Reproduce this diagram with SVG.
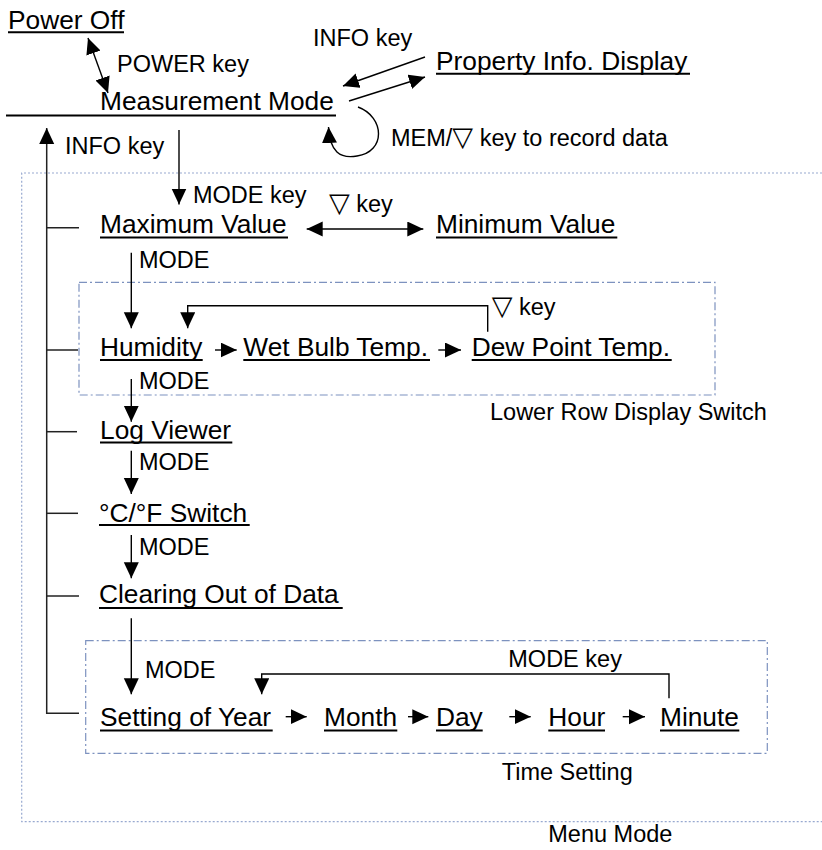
<svg xmlns="http://www.w3.org/2000/svg" width="822" height="850" viewBox="0 0 822 850">
<style>
.n{font-family:"Liberation Sans",Arial,"DejaVu Sans",sans-serif;font-size:26.3px;fill:#000}
.l{font-family:"Liberation Sans",Arial,"DejaVu Sans",sans-serif;font-size:23.5px;fill:#000}
.tri{font-family:"DejaVu Sans",sans-serif;font-size:27px}
.u{stroke:#000;stroke-width:2;fill:none}
.c{stroke:#000;stroke-width:1.4;fill:none}
.t{stroke:#222;stroke-width:1.5;fill:none}
.a{marker-end:url(#ah)}
.b{marker-start:url(#ahs);marker-end:url(#ah)}
.outer{fill:none;stroke:#98a9d0;stroke-width:1.2;stroke-dasharray:2 2}
.inner{fill:none;stroke:#7d92bf;stroke-width:1.2;stroke-dasharray:8 3 2 3}
</style>
<defs>
<marker id="ah" markerUnits="userSpaceOnUse" markerWidth="17" markerHeight="17" refX="16" refY="7.5" orient="auto">
<path d="M0,0 L16,7.5 L0,15 z" fill="#000"/>
</marker>
<marker id="ahs" markerUnits="userSpaceOnUse" markerWidth="17" markerHeight="17" refX="16" refY="7.5" orient="auto-start-reverse">
<path d="M0,0 L16,7.5 L0,15 z" fill="#000"/>
</marker>
</defs>

<g id="frames">
<path class="outer" d="M830,173 H21.7 V821.7 H830"/>
<rect id="lower-row-box" class="inner" x="79" y="282.3" width="636" height="112.7"/>
<rect id="time-box" class="inner" x="85.7" y="640.7" width="681.6" height="112.6"/>
</g>

<g id="connectors">
<line class="c b" x1="88" y1="38" x2="108" y2="93"/>
<line class="c a" x1="425" y1="57" x2="343" y2="86"/>
<line class="c a" x1="349" y1="101" x2="425" y2="77"/>
<path class="c a" d="M358,107 C385,117 386,152 357,156 C340,159 330,152 328.5,127"/>
<path class="t a" d="M79,713.3 H46.7 V128"/>
<line class="t" x1="46.7" y1="227.7" x2="79" y2="227.7"/>
<line class="t" x1="46.7" y1="350" x2="78" y2="350"/>
<line class="t" x1="46.7" y1="431.7" x2="77" y2="431.7"/>
<line class="t" x1="46.7" y1="513.3" x2="78" y2="513.3"/>
<line class="t" x1="46.7" y1="596" x2="79" y2="596"/>
<line class="c a" x1="179" y1="130" x2="179" y2="204.5"/>
<line class="c b" x1="306.7" y1="229" x2="423.3" y2="229"/>
<line class="c a" x1="131.3" y1="252.7" x2="131.3" y2="328.3"/>
<path class="c a" d="M487.7,331.7 V305.7 H187.7 V328.3"/>
<line class="c a" x1="215" y1="350" x2="236.7" y2="350"/>
<line class="c a" x1="438.3" y1="350" x2="461" y2="350"/>
<line class="c a" x1="131.3" y1="379" x2="131.3" y2="421.7"/>
<line class="c a" x1="131.3" y1="450.7" x2="131.3" y2="494"/>
<line class="c a" x1="131.3" y1="535" x2="131.3" y2="578.3"/>
<line class="c a" x1="131.3" y1="618.3" x2="131.3" y2="694.3"/>
<path class="c a" d="M669,698.3 V674 H261.7 V694.3"/>
<line class="c a" x1="285.7" y1="716.7" x2="306.7" y2="716.7"/>
<line class="c a" x1="408" y1="716.7" x2="428.3" y2="716.7"/>
<line class="c a" x1="509.3" y1="716.7" x2="530.7" y2="716.7"/>
<line class="c a" x1="622.7" y1="716.7" x2="645" y2="716.7"/>
</g>

<g id="labels">
<text class="l" x="117" y="72">POWER key</text>
<text class="l" x="313" y="46">INFO key</text>
<text class="l" x="391" y="146">MEM/<tspan class="tri">▽</tspan> key to record data</text>
<text class="l" x="65" y="154">INFO key</text>
<text class="l" x="193" y="202.7">MODE key</text>
<text class="l" x="329" y="211.7"><tspan class="tri">▽</tspan> key</text>
<text class="l" x="139" y="268.3">MODE</text>
<text class="l" x="491.7" y="315"><tspan class="tri">▽</tspan> key</text>
<text class="l" x="139" y="389.3">MODE</text>
<text class="l" x="490" y="420">Lower Row Display Switch</text>
<text class="l" x="139" y="470">MODE</text>
<text class="l" x="139" y="555">MODE</text>
<text class="l" x="145" y="677.7">MODE</text>
<text class="l" x="508.3" y="666.7">MODE key</text>
<text class="l" x="501.7" y="780">Time Setting</text>
<text class="l" x="548.3" y="841.7">Menu Mode</text>
</g>

<g id="power-off"><text class="n" x="8" y="29.3">Power Off</text><line class="u" x1="8" y1="32.3" x2="124" y2="32.3"/></g>
<g id="measurement-mode"><text class="n" x="100" y="110">Measurement Mode</text><line class="u" x1="6" y1="115.5" x2="336" y2="115.5"/></g>
<g id="property-info"><text class="n" x="436" y="70">Property Info. Display</text><line class="u" x1="436" y1="73.7" x2="690" y2="73.7"/></g>
<g id="maximum-value"><text class="n" x="100" y="233.3">Maximum Value</text><line class="u" x1="100" y1="237.5" x2="288" y2="237.5"/></g>
<g id="minimum-value"><text class="n" x="436" y="233.3">Minimum Value</text><line class="u" x1="436" y1="237.5" x2="617.3" y2="237.5"/></g>
<g id="humidity"><text class="n" x="100" y="356">Humidity</text><line class="u" x1="100" y1="360" x2="202.7" y2="360"/></g>
<g id="wet-bulb"><text class="n" x="243.3" y="356">Wet Bulb Temp.</text><line class="u" x1="243.3" y1="360" x2="430" y2="360"/></g>
<g id="dew-point"><text class="n" x="471.7" y="356">Dew Point Temp.</text><line class="u" x1="471.7" y1="360" x2="671.7" y2="360"/></g>
<g id="log-viewer"><text class="n" x="100" y="439.3">Log Viewer</text><line class="u" x1="100" y1="442.5" x2="232.3" y2="442.5"/></g>
<g id="cf-switch"><text class="n" x="99" y="521.7">°C/°F Switch</text><line class="u" x1="99" y1="525" x2="249.7" y2="525"/></g>
<g id="clearing"><text class="n" x="99" y="603.3">Clearing Out of Data</text><line class="u" x1="99" y1="608" x2="342.7" y2="608"/></g>
<g id="setting-year"><text class="n" x="100" y="726">Setting of Year</text><line class="u" x1="100" y1="730.5" x2="272.7" y2="730.5"/></g>
<g id="month"><text class="n" x="324" y="726">Month</text><line class="u" x1="324" y1="730.5" x2="397.3" y2="730.5"/></g>
<g id="day"><text class="n" x="436" y="726">Day</text><line class="u" x1="436" y1="730.5" x2="482.7" y2="730.5"/></g>
<g id="hour"><text class="n" x="548.3" y="726">Hour</text><line class="u" x1="548.3" y1="730.5" x2="605" y2="730.5"/></g>
<g id="minute"><text class="n" x="660" y="726">Minute</text><line class="u" x1="660" y1="730.5" x2="739.3" y2="730.5"/></g>
</svg>
